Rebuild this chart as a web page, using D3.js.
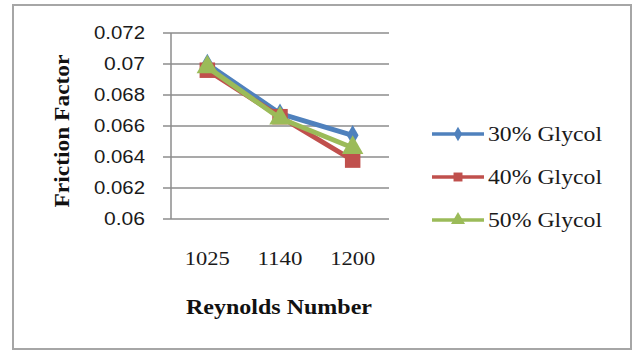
<!DOCTYPE html>
<html>
<head>
<meta charset="utf-8">
<script src="https://cdn.jsdelivr.net/npm/d3@7"></script>
<style>
  html, body { margin: 0; padding: 0; background: #fff; }
  svg { display: block; }
</style>
</head>
<body>
<svg id="chart" width="635" height="351"></svg>
<script>
// Reynolds number categories and friction factor per glycol concentration
const categories = ["1025", "1140", "1200"];
const glycol30 = [0.0700, 0.0668, 0.0654];
const glycol40 = [0.0696, 0.0666, 0.0638];
const glycol50 = [0.0698, 0.0665, 0.0646];
const seriesNames = ["30% Glycol", "40% Glycol", "50% Glycol"];
const yTicks = [0.06, 0.062, 0.064, 0.066, 0.068, 0.07, 0.072];

const series = [
  { name: seriesNames[0], values: glycol30, color: "#4F81BD", symbol: d3.symbolDiamond, size: 120, legendSize: 60 },
  { name: seriesNames[1], values: glycol40, color: "#C0504D", symbol: d3.symbolSquare, size: 240, legendSize: 80 },
  { name: seriesNames[2], values: glycol50, color: "#9BBB59", symbol: d3.symbolTriangle, size: 200, legendSize: 85 }
];

const svg = d3.select("#chart");

// outer chart frame
svg.append("rect")
  .attr("x", 13).attr("y", 5)
  .attr("width", 618).attr("height", 344)
  .attr("fill", "#fff")
  .attr("stroke", "#a6a6a6").attr("stroke-width", 2);

const plot = { left: 171, right: 389, top: 33, bottom: 219 };

const x = d3.scaleBand().domain(categories).range([plot.left, plot.right]);
const y = d3.scaleLinear().domain([0.06, 0.072]).range([plot.bottom, plot.top]);

// horizontal gridlines with short outward ticks
svg.append("g").selectAll("line")
  .data(yTicks)
  .join("line")
  .attr("x1", plot.left - 8).attr("x2", plot.right)
  .attr("y1", d => y(d)).attr("y2", d => y(d))
  .attr("stroke", "#8c8c8c").attr("stroke-width", 1.5);

// vertical value axis
svg.append("line")
  .attr("x1", plot.left).attr("x2", plot.left)
  .attr("y1", plot.top).attr("y2", plot.bottom)
  .attr("stroke", "#8c8c8c").attr("stroke-width", 1.5);

// value tick labels
const fmt = d => String(+d.toFixed(3));
svg.append("g").selectAll("text")
  .data(yTicks)
  .join("text")
  .attr("x", 145).attr("y", d => y(d))
  .attr("dy", "0.36em")
  .attr("text-anchor", "end")
  .attr("font-family", "Liberation Sans, Arial, sans-serif")
  .attr("font-size", 17.5)
  .attr("fill", "#1a1a1a")
  .attr("textLength", d => fmt(d).length === 5 ? 51 : 41)
  .attr("lengthAdjust", "spacingAndGlyphs")
  .text(fmt);

// category labels
svg.append("g").selectAll("text")
  .data(categories)
  .join("text")
  .attr("x", d => x(d) + x.bandwidth() / 2)
  .attr("y", 265)
  .attr("text-anchor", "middle")
  .attr("font-family", "Liberation Serif, 'Times New Roman', serif")
  .attr("font-size", 19)
  .attr("fill", "#1a1a1a")
  .attr("textLength", 45)
  .attr("lengthAdjust", "spacingAndGlyphs")
  .text(d => d);

// axis titles
svg.append("text")
  .attr("x", 279).attr("y", 314)
  .attr("text-anchor", "middle")
  .attr("font-family", "Liberation Serif, 'Times New Roman', serif")
  .attr("font-weight", "bold")
  .attr("font-size", 21)
  .attr("fill", "#111")
  .attr("textLength", 186)
  .attr("lengthAdjust", "spacingAndGlyphs")
  .text("Reynolds Number");

svg.append("text")
  .attr("transform", "translate(69,131) rotate(-90)")
  .attr("text-anchor", "middle")
  .attr("font-family", "Liberation Serif, 'Times New Roman', serif")
  .attr("font-weight", "bold")
  .attr("font-size", 21)
  .attr("fill", "#111")
  .attr("textLength", 153)
  .attr("lengthAdjust", "spacingAndGlyphs")
  .text("Friction Factor");

// series lines and markers
const line = d3.line()
  .x((d, i) => x(categories[i]) + x.bandwidth() / 2)
  .y(d => y(d));

const sg = svg.append("g").selectAll("g")
  .data(series)
  .join("g");

sg.append("path")
  .attr("d", s => line(s.values))
  .attr("fill", "none")
  .attr("stroke", s => s.color)
  .attr("stroke-width", 5)
  .attr("stroke-linejoin", "round");

sg.each(function(s) {
  d3.select(this).selectAll("path.m")
    .data(s.values)
    .join("path")
    .attr("class", "m")
    .attr("transform", (d, i) => `translate(${x(categories[i]) + x.bandwidth() / 2},${y(d)})`)
    .attr("d", d3.symbol().type(s.symbol).size(s.size))
    .attr("fill", s.color);
});

// legend
const lg = svg.append("g").selectAll("g")
  .data(series)
  .join("g")
  .attr("transform", (s, i) => `translate(0,${134 + i * 43})`);

lg.append("line")
  .attr("x1", 432).attr("x2", 484)
  .attr("stroke", s => s.color).attr("stroke-width", 3.5);

lg.append("path")
  .attr("transform", "translate(458,0)")
  .attr("d", s => d3.symbol().type(s.symbol).size(s.legendSize)())
  .attr("fill", s => s.color);

lg.append("text")
  .attr("x", 488).attr("y", 0)
  .attr("dy", "0.35em")
  .attr("font-family", "Liberation Serif, 'Times New Roman', serif")
  .attr("font-size", 20)
  .attr("fill", "#1a1a1a")
  .attr("textLength", 114)
  .attr("lengthAdjust", "spacingAndGlyphs")
  .text(s => s.name);
</script>
</body>
</html>
